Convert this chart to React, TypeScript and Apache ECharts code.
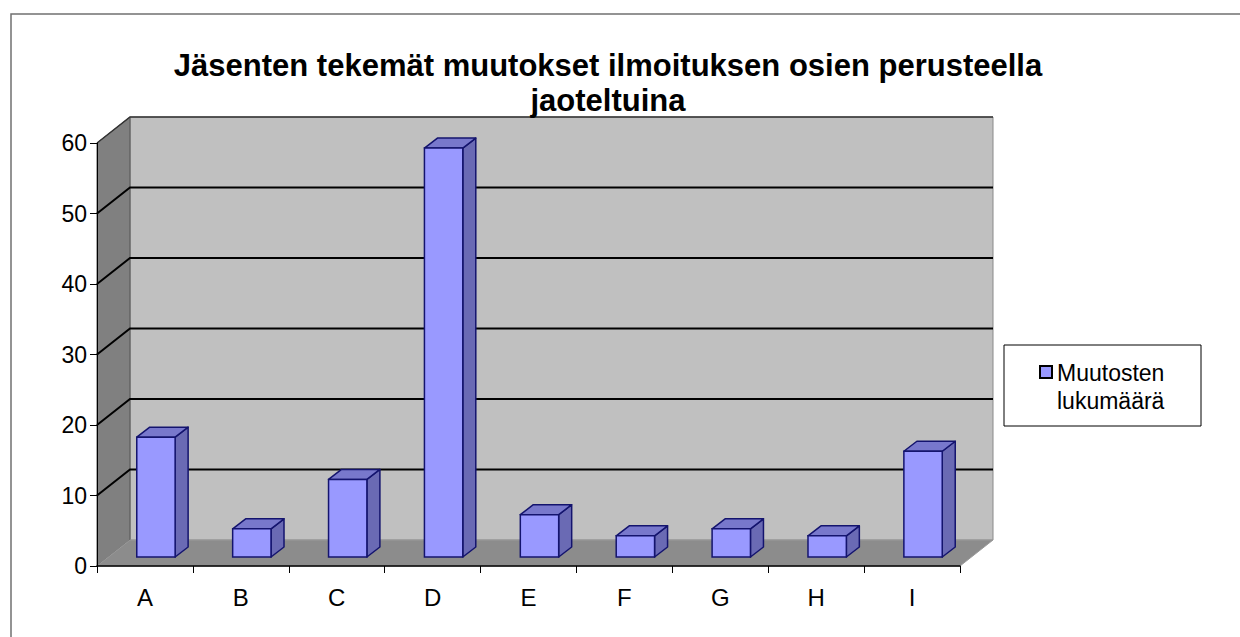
import React, { useEffect, useRef } from "react";
import * as echarts from "echarts";

const categories = ["A", "B", "C", "D", "E", "F", "G", "H", "I"];
const values = [17, 4, 11, 58, 6, 3, 4, 3, 15];
const seriesName = "Muutosten lukumäärä";
const legendLines = ["Muutosten", "lukumäärä"];
const titleLines = ["Jäsenten tekemät muutokset ilmoituksen osien perusteella", "jaoteltuina"];
const yTicks = [0, 10, 20, 30, 40, 50, 60];

const FONT = "'Liberation Sans', Arial, sans-serif";
// 3D depth of the walls (pixels) and of the bars
const WALL_DX = 33;
const WALL_DY = -26;
const BAR_OFF_X = 11;
const BAR_OFF_Y = -9;
const BAR_DX = 13;
const BAR_DY = -10;

export default function App() {
  const ref = useRef<HTMLDivElement>(null);

  useEffect(() => {
    if (!ref.current) return;
    const chart = echarts.init(ref.current, null, { renderer: "svg" });

    const wallsRender = (params: any, api: any) => {
      if (params.dataIndex !== 0) return null;
      const cs = params.coordSys;
      const x0 = cs.x;
      const x1 = cs.x + cs.width;
      const yTop = cs.y;
      const yBot = cs.y + cs.height;
      const children: any[] = [];
      children.push({
        type: "rect",
        shape: { x: x0 + WALL_DX, y: yTop + WALL_DY, width: cs.width, height: cs.height },
        style: { fill: "#c0c0c0", stroke: "#8a8a8a", lineWidth: 1 },
      });
      children.push({
        type: "polygon",
        shape: {
          points: [
            [x0, yTop],
            [x0 + WALL_DX, yTop + WALL_DY],
            [x0 + WALL_DX, yBot + WALL_DY],
            [x0, yBot],
          ],
        },
        style: { fill: "#808080", stroke: "#555", lineWidth: 1 },
      });
      children.push({
        type: "polygon",
        shape: {
          points: [
            [x0, yBot],
            [x0 + WALL_DX, yBot + WALL_DY],
            [x1 + WALL_DX, yBot + WALL_DY],
            [x1, yBot],
          ],
        },
        style: { fill: "#8c8c8c", stroke: "#9a9a9a", lineWidth: 1 },
      });
      yTicks.forEach((v) => {
        if (v === 0) return;
        const y = api.coord([0, v])[1];
        const yb = y + WALL_DY;
        children.push({
          type: "polyline",
          shape: {
            points: [
              [x0, y],
              [x0 + WALL_DX, yb],
              [x1 + WALL_DX, yb],
            ],
          },
          style: { fill: null, stroke: v === 60 ? "#333" : "#000", lineWidth: v === 60 ? 1.5 : 2 },
        });
      });
      return { type: "group", children };
    };

    const barsRender = (params: any, api: any) => {
      const idx = api.value(0);
      const val = api.value(1);
      const base = api.coord([idx, 0]);
      const top = api.coord([idx, val]);
      const catW = api.size([1, 0])[0];
      const w = catW * 0.4;
      const cx = base[0] + BAR_OFF_X;
      const xl = cx - w / 2;
      const xr = cx + w / 2;
      const yb = base[1] + BAR_OFF_Y;
      const yt = top[1] + BAR_OFF_Y;
      const stroke = "#14146e";
      return {
        type: "group",
        children: [
          {
            type: "polygon",
            shape: {
              points: [
                [xr, yt],
                [xr + BAR_DX, yt + BAR_DY],
                [xr + BAR_DX, yb + BAR_DY],
                [xr, yb],
              ],
            },
            style: { fill: "#6a6ab4", stroke, lineWidth: 1.5, lineJoin: "round" },
          },
          {
            type: "polygon",
            shape: {
              points: [
                [xl, yt],
                [xl + BAR_DX, yt + BAR_DY],
                [xr + BAR_DX, yt + BAR_DY],
                [xr, yt],
              ],
            },
            style: { fill: "#7878cc", stroke, lineWidth: 1.5, lineJoin: "round" },
          },
          {
            type: "rect",
            shape: { x: xl, y: yt, width: w, height: yb - yt },
            style: { fill: "#9999ff", stroke, lineWidth: 1.5 },
          },
        ],
      };
    };

    chart.setOption({
      animation: false,
      backgroundColor: "#ffffff",
      title: {
        text: titleLines.join("\n"),
        left: 603,
        top: 43,
        textAlign: "center",
        textStyle: {
          fontFamily: FONT,
          fontSize: 31,
          fontWeight: "bold",
          color: "#000",
          lineHeight: 35,
        },
      },
      grid: { left: 97, top: 143, width: 863, height: 423, containLabel: false },
      xAxis: {
        type: "category",
        data: categories,
        boundaryGap: true,
        z: 10,
        axisLine: { show: true, lineStyle: { color: "#000", width: 1.5 } },
        axisTick: { show: true, length: 7, alignWithLabel: false, lineStyle: { color: "#000" } },
        axisLabel: { fontFamily: FONT, fontSize: 24, color: "#000", margin: 19 },
        splitLine: { show: false },
      },
      yAxis: {
        type: "value",
        min: 0,
        max: 60,
        interval: 10,
        z: 10,
        axisLine: { show: true, lineStyle: { color: "#000", width: 1 } },
        axisTick: { show: true, length: 7, lineStyle: { color: "#000" } },
        axisLabel: { fontFamily: FONT, fontSize: 23, color: "#000", margin: 10 },
        splitLine: { show: false },
      },
      series: [
        {
          type: "custom",
          name: "walls",
          z: 1,
          silent: true,
          renderItem: wallsRender,
          data: [[0, 0]],
          encode: { x: 0, y: 1 },
        },
        {
          type: "custom",
          name: seriesName,
          z: 3,
          renderItem: barsRender,
          data: values.map((v, i) => [i, v]),
          encode: { x: 0, y: 1 },
        },
      ],
      graphic: [
        {
          type: "rect",
          shape: { x: 11, y: 14, width: 1240, height: 640 },
          style: { fill: "none", stroke: "#707070", lineWidth: 1.5 },
          silent: true,
        },
        {
          type: "group",
          children: [
            {
              type: "rect",
              shape: { x: 1004, y: 345, width: 197, height: 81 },
              style: { fill: "#fff", stroke: "#000", lineWidth: 1 },
            },
            {
              type: "rect",
              shape: { x: 1040, y: 366, width: 12, height: 12 },
              style: { fill: "#9999ff", stroke: "#000", lineWidth: 2 },
            },
            {
              type: "text",
              x: 1057,
              y: 373,
              style: {
                text: legendLines[0],
                fontFamily: FONT,
                fontSize: 23,
                fill: "#000",
                verticalAlign: "middle",
              },
            },
            {
              type: "text",
              x: 1057,
              y: 401,
              style: {
                text: legendLines[1],
                fontFamily: FONT,
                fontSize: 23,
                fill: "#000",
                verticalAlign: "middle",
              },
            },
          ],
        },
      ],
    });

    return () => chart.dispose();
  }, []);

  return (
    <div
      ref={ref}
      style={{ position: "absolute", left: 0, top: 0, width: 1240, height: 637 }}
    />
  );
}
